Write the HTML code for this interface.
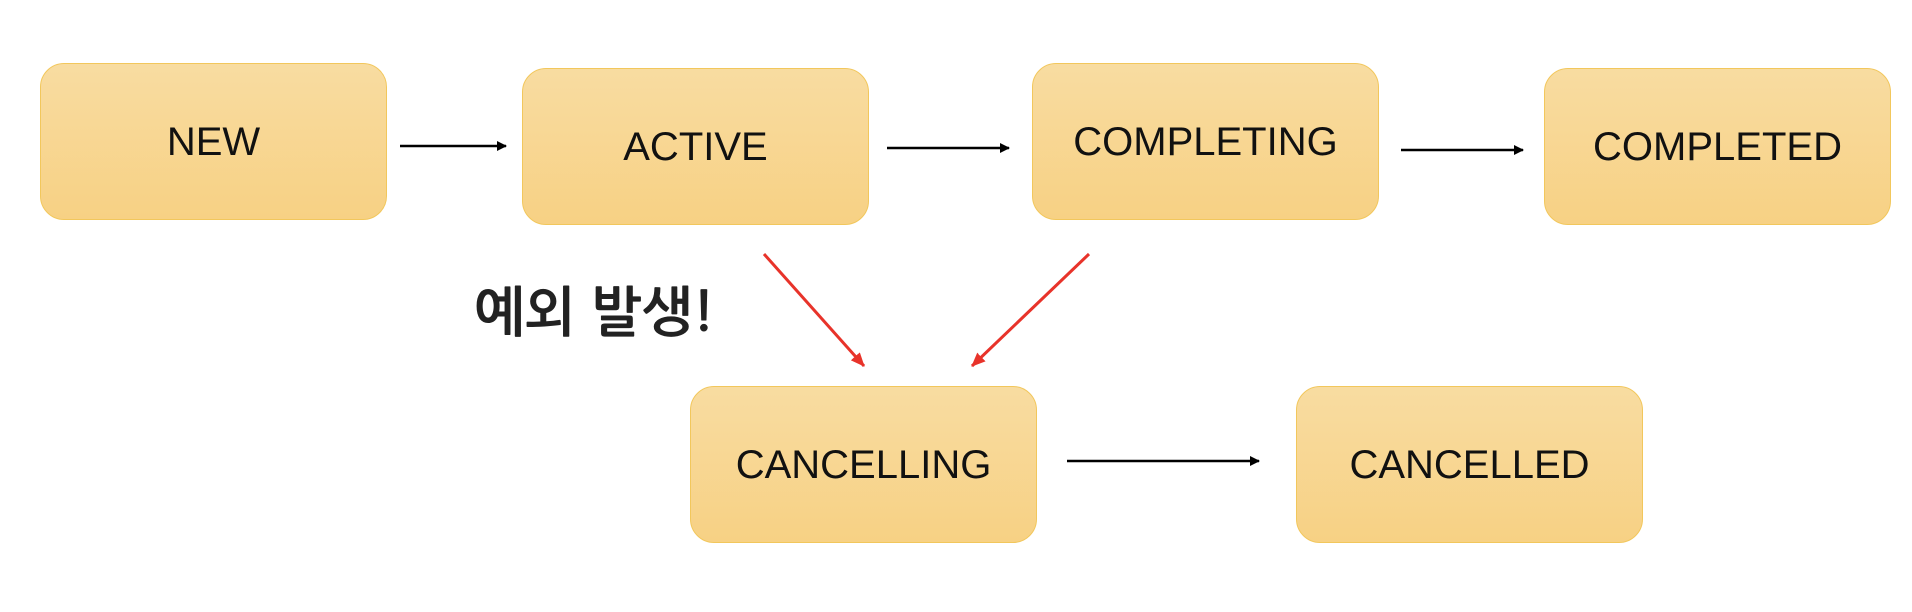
<!DOCTYPE html>
<html><head><meta charset="utf-8"><style>
body{margin:0;width:1912px;height:612px;background:#fff;overflow:hidden;position:relative;font-family:"Liberation Sans","NanumGothic",sans-serif}
.b{position:absolute;width:347px;height:157px;border-radius:24px;border:1.5px solid #f2c75c;background:linear-gradient(#f8dca1,#f7d184);display:flex;align-items:center;justify-content:center;font-size:40px;color:#111;box-sizing:border-box;padding-top:2px}
.k{position:absolute;left:474px;top:287px;font-size:54px;font-weight:bold;font-family:"NanumGothic","Noto Sans CJK KR",sans-serif;color:#222}
</style></head><body>
<div class="b" style="left:40px;top:63px">NEW</div>
<div class="b" style="left:522px;top:68px">ACTIVE</div>
<div class="b" style="left:1032px;top:63px">COMPLETING</div>
<div class="b" style="left:1544px;top:68px">COMPLETED</div>
<div class="b" style="left:690px;top:386px">CANCELLING</div>
<div class="b" style="left:1296px;top:386px">CANCELLED</div>
<div class="k">예외 발생!</div>
<svg width="1912" height="612" style="position:absolute;left:0;top:0">
<defs>
<marker id="a" markerWidth="10" markerHeight="10" refX="9" refY="5" orient="auto" markerUnits="userSpaceOnUse"><path d="M0,0L10,5L0,10z" fill="#000"/></marker>
<marker id="r" markerWidth="14" markerHeight="12" refX="13" refY="6" orient="auto" markerUnits="userSpaceOnUse"><path d="M0,0L14,6L0,12z" fill="#e8332a"/></marker>
</defs>
<g stroke="#000" stroke-width="2.5">
<line x1="400" y1="146" x2="506" y2="146" marker-end="url(#a)"/>
<line x1="887" y1="148" x2="1009" y2="148" marker-end="url(#a)"/>
<line x1="1401" y1="150" x2="1523" y2="150" marker-end="url(#a)"/>
<line x1="1067" y1="461" x2="1259" y2="461" marker-end="url(#a)"/>
</g>
<g stroke="#e8332a" stroke-width="3">
<line x1="764" y1="254" x2="864" y2="366" marker-end="url(#r)"/>
<line x1="1089" y1="254" x2="972" y2="366" marker-end="url(#r)"/>
</g>
</svg>
</body></html>
